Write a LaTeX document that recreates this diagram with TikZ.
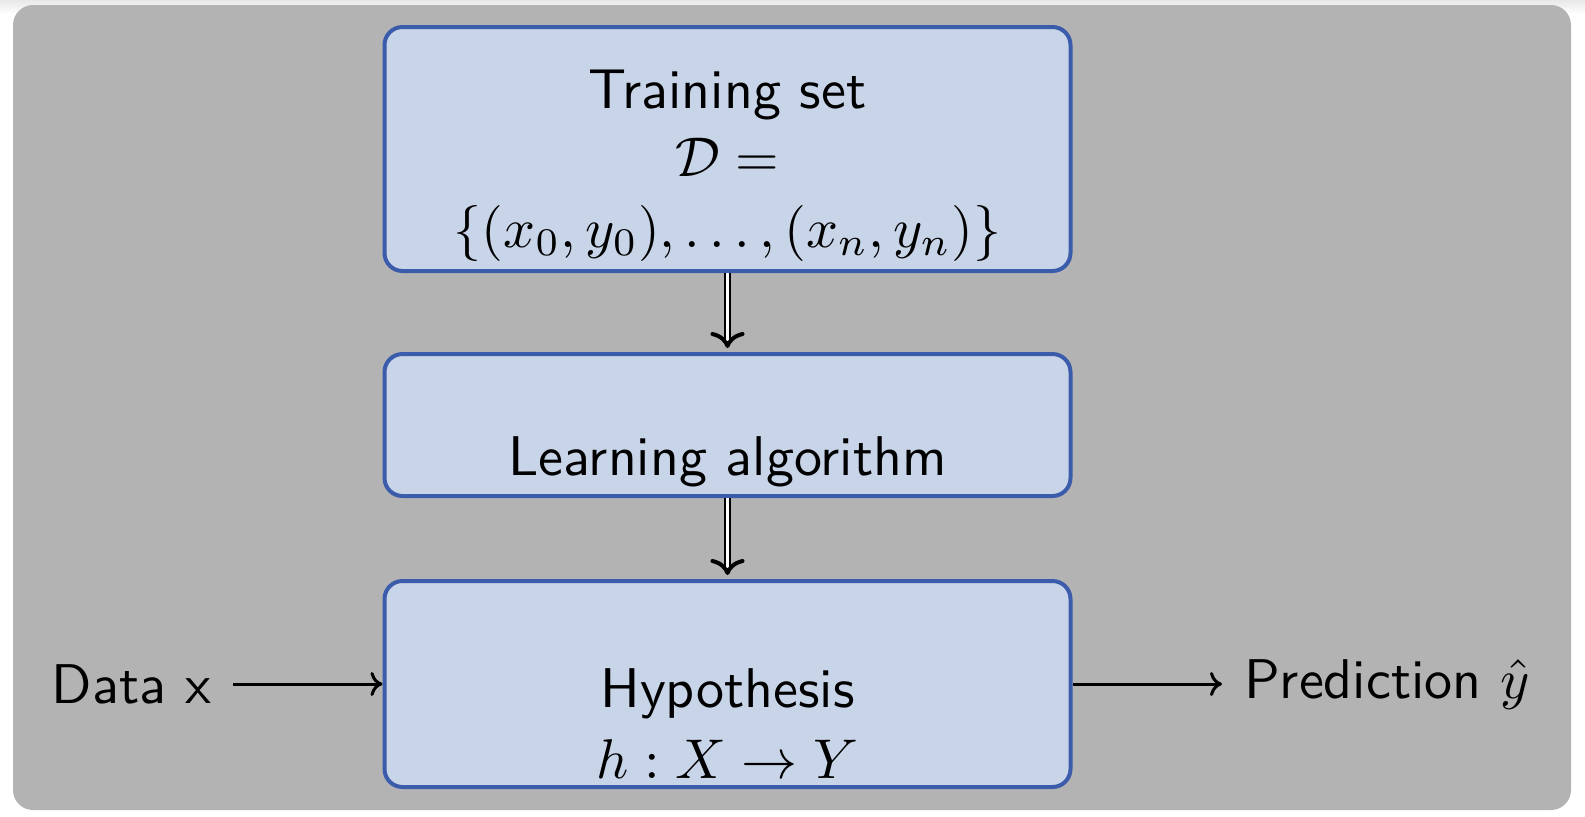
\documentclass[tikz,border=0pt]{standalone}
\usetikzlibrary{arrows.meta}
\definecolor{bggray}{RGB}{179,179,179}
\definecolor{boxfill}{RGB}{200,212,232}
\definecolor{boxline}{RGB}{59,92,170}
\begin{document}
\begin{tikzpicture}[x=0.5pt,y=-0.5pt,
  stagebox/.style={draw=boxline, fill=boxfill, line width=2pt, rounded corners=9pt, inner sep=0pt},
  txt/.style={font=\sffamily, text=black, inner sep=0pt, scale=2.8, transform shape},
  flow/.style={draw=black, line width=1pt, double=white, double distance=1.6pt, -{To[length=8pt,width=17pt,line width=2pt]}},
  io/.style={draw=black, line width=1.5pt, -{To[length=6pt,width=12pt]}}]
\useasboundingbox (0,0) rectangle (1585,816);
\fill[white] (0,0) rectangle (1585,816);
\shade[top color=black!9, bottom color=white] (0,0) rectangle (1585,14);
\fill[bggray, rounded corners=10pt] (13,5) rectangle (1571,810);
% boxes
\node[stagebox, minimum width=343pt, minimum height=122pt] (b1) at (727.5,149) {};
\node[stagebox, minimum width=343pt, minimum height=71pt] (b2) at (727.5,425) {};
\node[stagebox, minimum width=343pt, minimum height=103pt] (b3) at (727.5,684) {};
% texts
\node[txt, anchor=base] (t1) at (727.5,108) {Training set};
\node[txt, anchor=base] (t2) at (727.5,176) {$\mathcal{D} =$};
\node[txt, anchor=base] (t3) at (727.5,247) {$\{(x_0,y_0),\ldots,(x_n,y_n)\}$};
\node[txt, anchor=base] (t4) at (727.5,475) {Learning algorithm};
\node[txt, anchor=base] (t5) at (727.5,707) {Hypothesis};
\node[txt, anchor=base] (t6) at (727.5,778) {$h:X\to Y$};
\node[txt, anchor=east] (dx) at (212,684) {Data x};
\node[txt, anchor=west] (pr) at (1243,684) {Prediction $\hat{y}$};
% connectors
\draw[flow, shorten >=2pt] (b1.south) -- (b2.north);
\draw[flow, shorten >=2pt] (b2.south) -- (b3.north);
\draw[io, shorten <=10.5pt] (dx.east) -- (b3.west);
\draw[io, shorten >=10.5pt] (b3.east) -- (pr.west);
\end{tikzpicture}
\end{document}
